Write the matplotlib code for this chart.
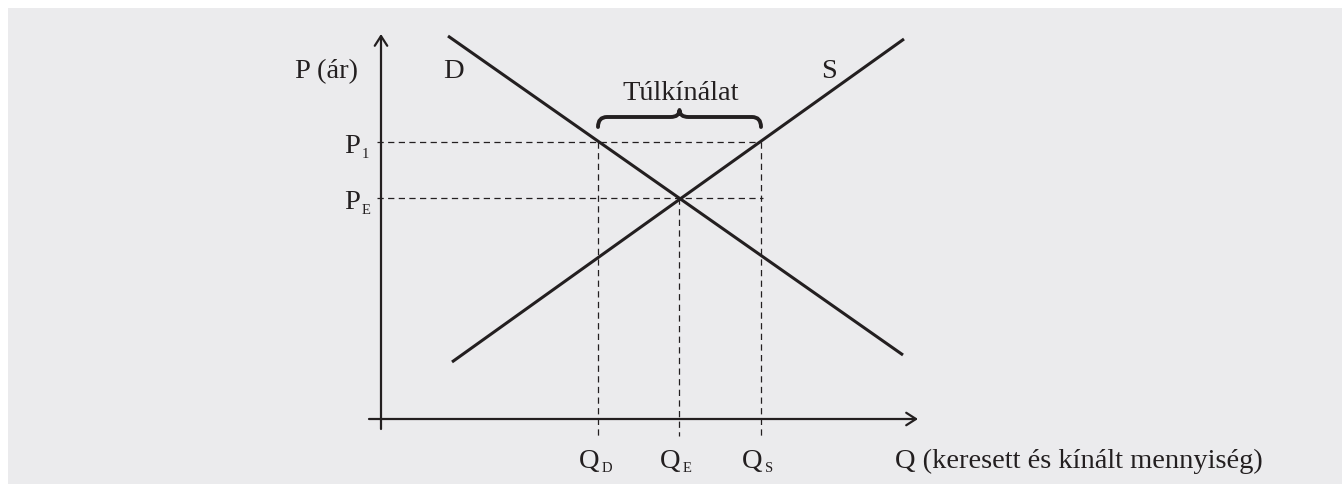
import numpy as np
import matplotlib
matplotlib.use("Agg")
import matplotlib.pyplot as plt
from matplotlib.patches import Rectangle, FancyArrowPatch, PathPatch
from matplotlib.path import Path

# demand / supply curves (quantity, price)
q_demand = [6.7, 52.2]
p_demand = [38.3, 6.4]
q_supply = [7.1, 52.3]
p_supply = [5.7, 38.0]

# marked quantities and prices
q_marks = [21.7, 29.8, 38.0]
q_subs = ['D', 'E', 'S']
p_marks = [27.7, 22.1]
p_subs = ['1', 'E']

ink = '#231f20'
font = 'Liberation Serif'
big = 20.5
small = 10.5

fig = plt.figure(figsize=(13.42, 4.85), dpi=100)
fig.patch.set_facecolor('white')

ax = fig.add_axes([0, 0, 1, 1])
ax.set_xlim(-38.1, 96.1)
ax.set_ylim(-6.5, 42.0)
ax.axis('off')
ax.add_patch(Rectangle((8 / 1342, -0.01), 1.01, 1.01 - 9 / 485, transform=ax.transAxes,
                       facecolor='#ebebed', edgecolor='none', zorder=-10, clip_on=False))

# axes with open arrow heads
arr_kw = dict(arrowstyle='->,head_length=7,head_width=4.5', mutation_scale=1,
              color=ink, lw=1.6, shrinkA=0, shrinkB=0)
ax.add_patch(FancyArrowPatch((0, -1.0), (0, 38.5), **arr_kw))
ax.add_patch(FancyArrowPatch((-1.2, 0), (53.7, 0), **arr_kw))

# curves
ax.plot(q_demand, p_demand, color=ink, lw=2.2, solid_capstyle='butt')
ax.plot(q_supply, p_supply, color=ink, lw=2.2, solid_capstyle='butt')

# dashed guide lines
dash = dict(color=ink, lw=0.9, dashes=(5, 3.5))
ax.plot([-0.4, q_marks[2]], [p_marks[0]] * 2, **dash)
ax.plot([-0.4, q_marks[2] + 0.2], [p_marks[1]] * 2, **dash)
ax.plot([q_marks[0]] * 2, [p_marks[0], -1.7], **dash)
ax.plot([q_marks[1]] * 2, [p_marks[1], -1.7], **dash)
ax.plot([q_marks[2]] * 2, [p_marks[0], -1.7], **dash)

# brace over the surplus
x0, x1 = q_marks[0], q_marks[2]
xm = (x0 + x1) / 2
yb, yt, ytip = 29.2, 30.2, 30.9
r = 0.9
verts = [(x0, yb), (x0, yt), (x0 + r, yt),
         (xm - r, yt), (xm, yt), (xm, ytip),
         (xm, yt), (xm + r, yt),
         (x1 - r, yt), (x1, yt), (x1, yb)]
codes = [Path.MOVETO, Path.CURVE3, Path.CURVE3,
         Path.LINETO, Path.CURVE3, Path.CURVE3,
         Path.CURVE3, Path.CURVE3,
         Path.LINETO, Path.CURVE3, Path.CURVE3]
ax.add_patch(PathPatch(Path(verts, codes), facecolor='none', edgecolor=ink,
                       lw=2.8, capstyle='round', joinstyle='round'))

txt = dict(family=font, color=ink, fontsize=big)
ax.text(-2.3, 34.2, 'P (ár)', ha='right', va='baseline', **txt)
ax.text(7.2, 34.2, 'D', ha='center', va='baseline', **txt)
ax.text(44.8, 34.2, 'S', ha='center', va='baseline', **txt)
ax.text(30.0, 32.0, 'Túlkínálat', ha='center', va='baseline', **txt)

# price labels
for p, s in zip(p_marks, p_subs):
    ax.text(-2.1, p - 1.0, 'P', ha='right', va='baseline', **txt)
    ax.text(-1.95, p - 1.45, s, ha='left', va='baseline', family=font, color=ink,
            fontsize=small)

# quantity labels
for q, s in zip(q_marks, q_subs):
    ax.text(q + 0.1, -4.85, 'Q', ha='right', va='baseline', **txt)
    ax.text(q + 0.4, -5.2, s, ha='left', va='baseline', family=font, color=ink,
            fontsize=small)

ax.text(51.4, -4.85, 'Q (keresett és kínált mennyiség)', ha='left', va='baseline', **txt)

fig.savefig('out.png', dpi=100, facecolor=fig.get_facecolor())
